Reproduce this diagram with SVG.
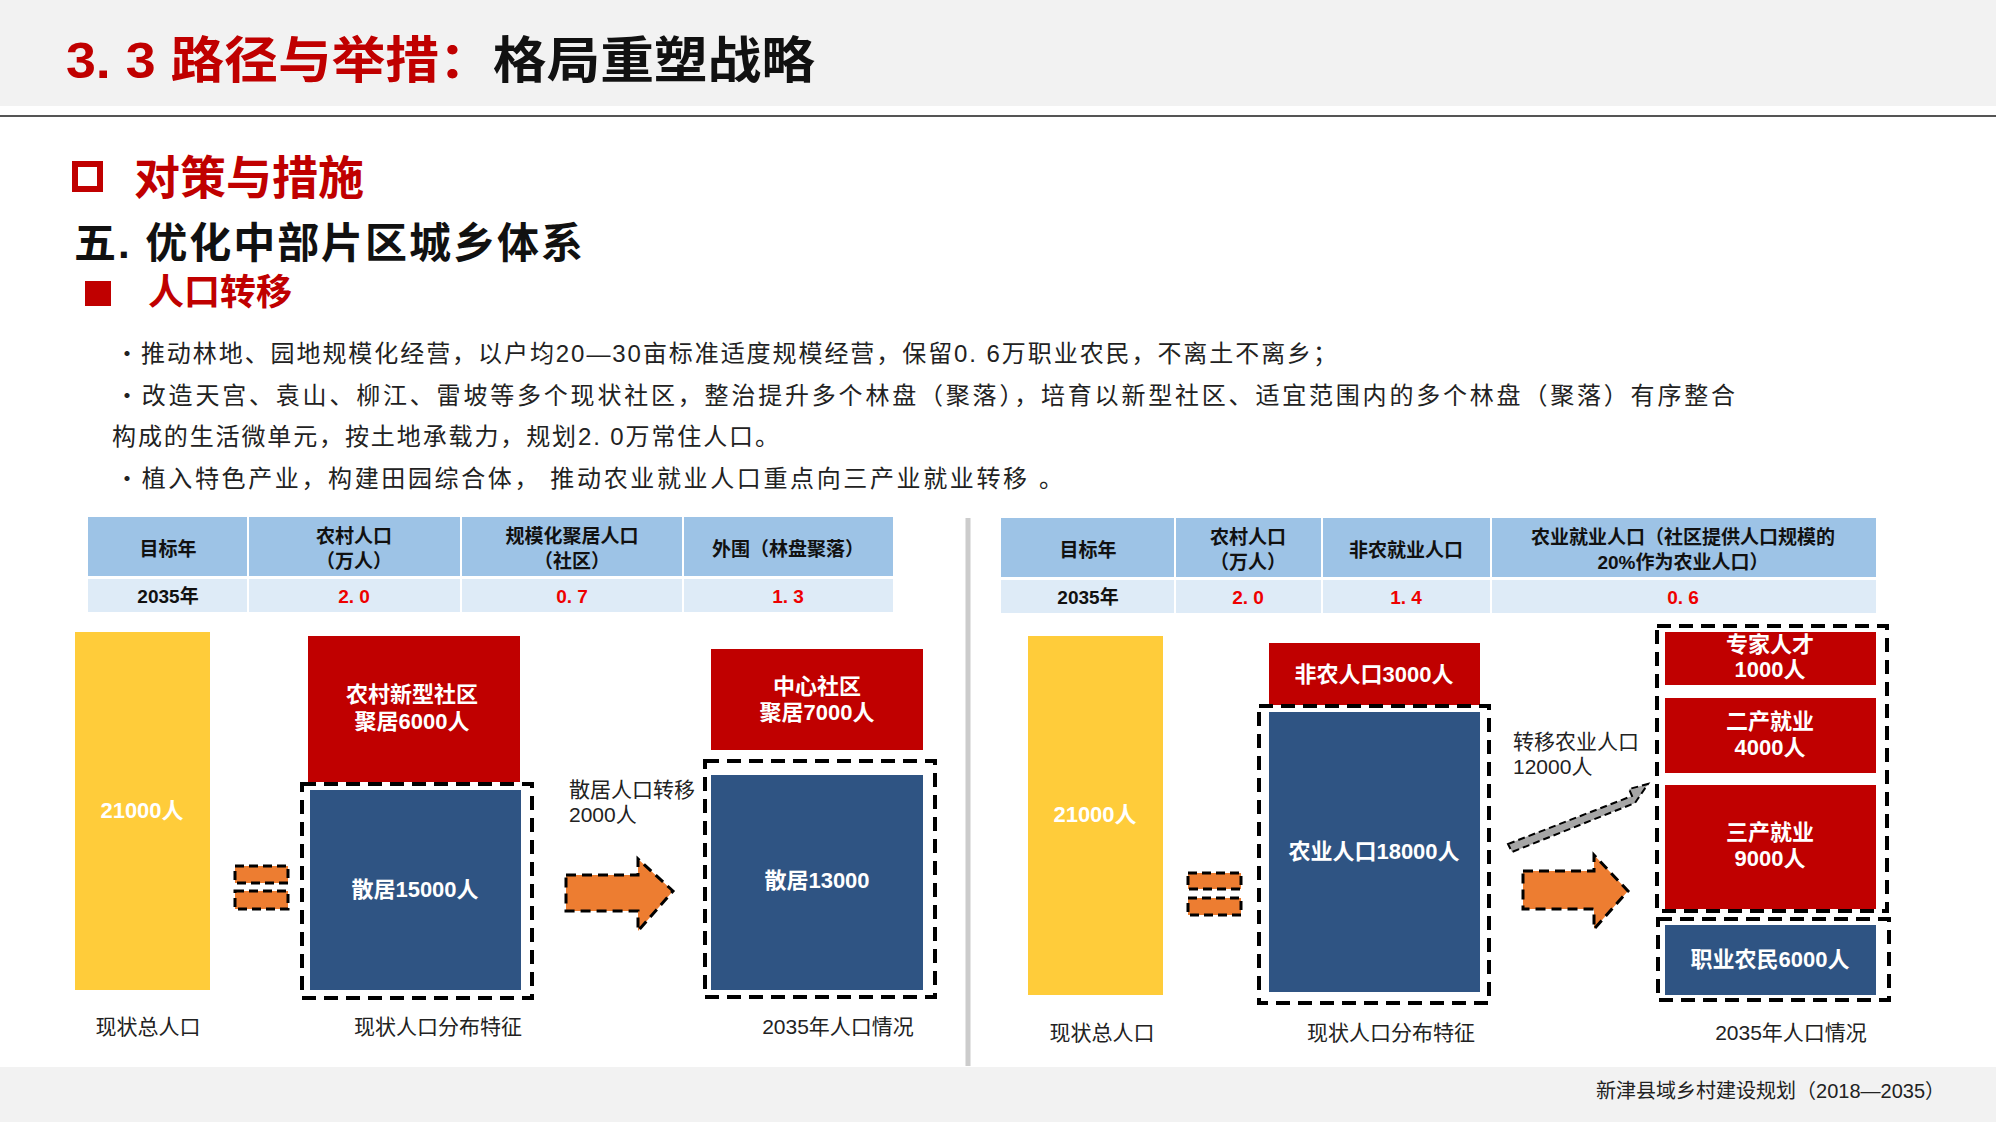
<svg xmlns="http://www.w3.org/2000/svg" width="1996" height="1122" viewBox="0 0 1996 1122">
<style>
text{font-family:"Liberation Sans","Noto Sans CJK SC",sans-serif}
.b{font-weight:bold}
.w{fill:#fff;font-weight:bold;font-size:22px;text-anchor:middle}
.th{font-weight:bold;font-size:19px;text-anchor:middle;fill:#111}
.tv{font-weight:bold;font-size:19px;text-anchor:middle;fill:#e00}
.lab{font-size:21px;text-anchor:middle;fill:#222}
.ann{font-size:21px;fill:#222}
.bul{font-size:24px;fill:#222}
.red{fill:#C00000}.blue{fill:#2F5483}.yel{fill:#FFCC3A}
.dash{fill:none;stroke:#000;stroke-width:4;stroke-dasharray:14 8}
.eq{fill:#ED7D31;stroke:#000;stroke-width:3;stroke-dasharray:9 5}
.hd{fill:#9DC3E6}.dr{fill:#DEEBF7}
</style>
<rect width="1996" height="1122" fill="#fff"/>
<rect width="1996" height="106" fill="#F2F2F2"/>
<line x1="0" y1="116" x2="1996" y2="116" stroke="#555" stroke-width="2"/>
<text x="66" y="78" class="b" font-size="50" fill="#C00000" textLength="749" lengthAdjust="spacingAndGlyphs">3. 3  路径与举措：<tspan fill="#111">格局重塑战略</tspan></text>
<rect x="75" y="164" width="25" height="25" fill="none" stroke="#C00000" stroke-width="6"/>
<text x="134" y="194" class="b" font-size="46" fill="#C00000">对策与措施</text>
<text x="74" y="258" class="b" font-size="42" fill="#111" textLength="509" lengthAdjust="spacing">五.  优化中部片区城乡体系</text>
<rect x="85" y="281" width="26" height="25" fill="#C00000"/>
<text x="148" y="305" class="b" font-size="36" fill="#C00000">人口转移</text>
<text x="115" y="362" class="bul" textLength="1222" lengthAdjust="spacing">・推动林地、园地规模化经营，以户均20—30亩标准适度规模经营，保留0. 6万职业农民，不离土不离乡；</text>
<text x="115" y="404" class="bul" textLength="1620" lengthAdjust="spacing">・改造天宫、袁山、柳江、雷坡等多个现状社区，整治提升多个林盘（聚落），培育以新型社区、适宜范围内的多个林盘（聚落）有序整合</text>
<text x="112" y="445" class="bul" textLength="667" lengthAdjust="spacing">构成的生活微单元，按土地承载力，规划2. 0万常住人口。</text>
<text x="115" y="487" class="bul" textLength="948" lengthAdjust="spacing">・植入特色产业，构建田园综合体，  推动农业就业人口重点向三产业就业转移  。</text>

<g id="table-left">
<rect x="88" y="517" width="805" height="59" class="hd"/>
<rect x="88" y="579" width="805" height="33" class="dr"/>
<g stroke="#fff" stroke-width="2"><line x1="248" y1="517" x2="248" y2="612"/><line x1="461" y1="517" x2="461" y2="612"/><line x1="683" y1="517" x2="683" y2="612"/></g>
<text x="168" y="556" class="th">目标年</text>
<text x="354" y="543" class="th">农村人口</text><text x="354" y="568" class="th">（万人）</text>
<text x="572" y="543" class="th">规模化聚居人口</text><text x="572" y="568" class="th">（社区）</text>
<text x="788" y="556" class="th">外围（林盘聚落）</text>
<text x="168" y="603" class="th">2035年</text>
<text x="354" y="603" class="tv">2. 0</text><text x="572" y="603" class="tv">0. 7</text><text x="788" y="603" class="tv">1. 3</text>
</g>
<g id="table-right">
<rect x="1001" y="518" width="875" height="59" class="hd"/>
<rect x="1001" y="580" width="875" height="33" class="dr"/>
<g stroke="#fff" stroke-width="2"><line x1="1175" y1="518" x2="1175" y2="613"/><line x1="1322" y1="518" x2="1322" y2="613"/><line x1="1491" y1="518" x2="1491" y2="613"/></g>
<text x="1088" y="557" class="th">目标年</text>
<text x="1248" y="544" class="th">农村人口</text><text x="1248" y="569" class="th">（万人）</text>
<text x="1406" y="557" class="th">非农就业人口</text>
<text x="1683" y="544" class="th">农业就业人口（社区提供人口规模的</text><text x="1683" y="569" class="th">20%作为农业人口）</text>
<text x="1088" y="604" class="th">2035年</text>
<text x="1248" y="604" class="tv">2. 0</text><text x="1406" y="604" class="tv">1. 4</text><text x="1683" y="604" class="tv">0. 6</text>
</g>
<line x1="968" y1="518" x2="968" y2="1066" stroke="#ccc" stroke-width="5"/>

<g id="left-total"><rect x="75" y="632" width="135" height="358" class="yel"/><text x="142" y="818" class="w">21000人</text></g>
<g id="left-eq"><rect x="235" y="866" width="53" height="17" class="eq"/><rect x="235" y="891" width="53" height="18" class="eq"/></g>
<g id="left-now">
<rect x="308" y="636" width="212" height="146" class="red"/>
<text x="412" y="702" class="w">农村新型社区</text><text x="412" y="729" class="w">聚居6000人</text>
<rect x="310" y="790" width="211" height="200" class="blue"/>
<text x="415" y="897" class="w">散居15000人</text>
<rect x="302" y="784" width="230" height="214" class="dash"/>
</g>
<g id="left-2035">
<rect x="711" y="649" width="212" height="101" class="red"/>
<text x="817" y="694" class="w">中心社区</text><text x="817" y="720" class="w">聚居7000人</text>
<rect x="711" y="775" width="212" height="215" class="blue"/>
<text x="817" y="888" class="w">散居13000</text>
<rect x="705" y="761" width="230" height="236" class="dash"/>
</g>
<g id="right-total"><rect x="1028" y="636" width="135" height="359" class="yel"/><text x="1095" y="822" class="w">21000人</text></g>
<g id="right-eq"><rect x="1188" y="873" width="53" height="16" class="eq"/><rect x="1188" y="898" width="53" height="17" class="eq"/></g>
<g id="right-now">
<rect x="1269" y="643" width="211" height="62" class="red"/>
<text x="1374" y="682" class="w">非农人口3000人</text>
<rect x="1269" y="712" width="211" height="280" class="blue"/>
<text x="1374" y="859" class="w">农业人口18000人</text>
<rect x="1259" y="706" width="230" height="297" class="dash"/>
</g>
<g id="right-2035">
<rect x="1665" y="632" width="211" height="53" class="red"/>
<text x="1770" y="652" class="w">专家人才</text><text x="1770" y="677" class="w">1000人</text>
<rect x="1665" y="698" width="211" height="75" class="red"/>
<text x="1770" y="729" class="w">二产就业</text><text x="1770" y="755" class="w">4000人</text>
<rect x="1665" y="785" width="211" height="124" class="red"/>
<text x="1770" y="840" class="w">三产就业</text><text x="1770" y="866" class="w">9000人</text>
<rect x="1657" y="626" width="230" height="285" class="dash"/>
<rect x="1665" y="925" width="211" height="70" class="blue"/>
<text x="1770" y="967" class="w">职业农民6000人</text>
<rect x="1658" y="919" width="231" height="81" class="dash"/>
</g>
<g id="connectors">
<path d="M566 875 H638 V859 L673 891 L638 931 V911 H566 Z" fill="#ED7D31" stroke="#000" stroke-width="3" stroke-dasharray="10 6"/>
<path d="M1523 871 H1594 V855 L1628 891 L1594 929 V909 H1523 Z" fill="#ED7D31" stroke="#000" stroke-width="3" stroke-dasharray="10 6"/>
<path d="M1508 844 L1632 796 L1629 789 L1648 784 L1637 800 L1635 803 L1512 852 Z" fill="#A6A6A6" stroke="#000" stroke-width="2" stroke-dasharray="7 4"/>
</g>
<text x="569" y="797" class="ann">散居人口转移</text><text x="569" y="822" class="ann">2000人</text>
<text x="1513" y="749" class="ann">转移农业人口</text><text x="1513" y="774" class="ann">12000人</text>
<text x="148" y="1034" class="lab">现状总人口</text>
<text x="438" y="1034" class="lab">现状人口分布特征</text>
<text x="838" y="1034" class="lab">2035年人口情况</text>
<text x="1102" y="1040" class="lab">现状总人口</text>
<text x="1391" y="1040" class="lab">现状人口分布特征</text>
<text x="1791" y="1040" class="lab">2035年人口情况</text>
<rect x="0" y="1067" width="1996" height="55" fill="#F2F2F2"/>
<text x="1945" y="1098" font-size="20" text-anchor="end" fill="#222">新津县域乡村建设规划（2018—2035）</text>
</svg>
